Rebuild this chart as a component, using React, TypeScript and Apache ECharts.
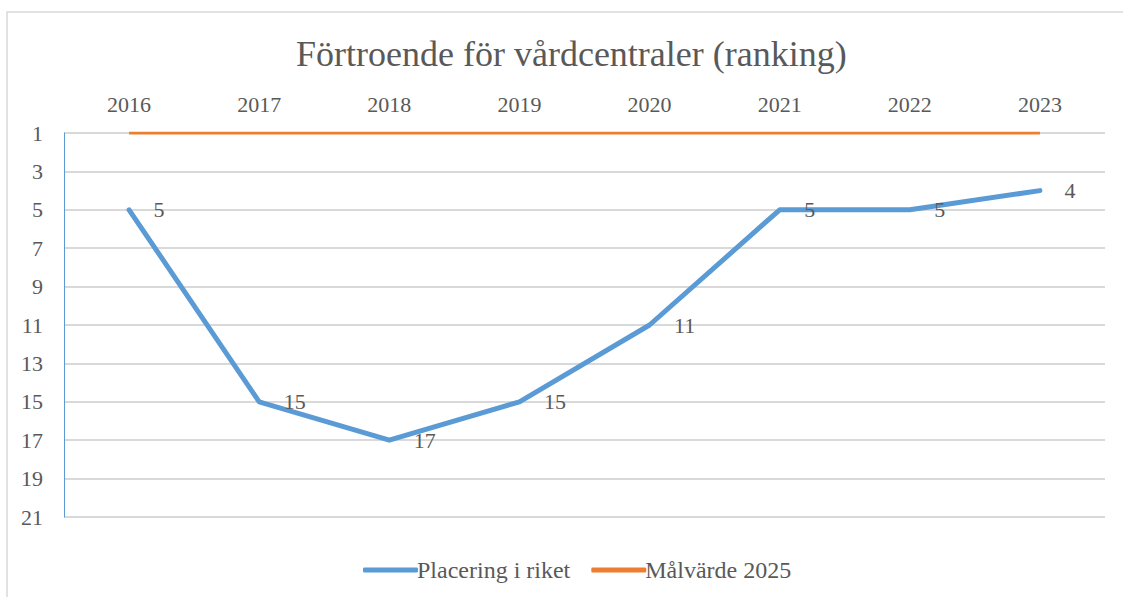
import React, { useEffect, useRef } from "react";
import * as echarts from "echarts";

const years = ["2016", "2017", "2018", "2019", "2020", "2021", "2022", "2023"];
const placering = [5, 15, 17, 15, 11, 5, 5, 4];
const malvarde = [1, 1, 1, 1, 1, 1, 1, 1];

const FONT = "Liberation Serif";
const TXT = "#595959";

export default function App() {
  const ref = useRef<HTMLDivElement>(null);
  useEffect(() => {
    document.body.style.margin = "0";
    const chart = echarts.init(ref.current!, null, { renderer: "svg" });
    chart.setOption({
      animation: false,
      textStyle: { fontFamily: FONT },
      title: {
        text: "Förtroende för vårdcentraler (ranking)",
        left: 291,
        top: 31,
        textStyle: { fontFamily: FONT, fontSize: 36, fontWeight: "normal", color: TXT },
      },
      graphic: [
        {
          type: "rect",
          shape: { x: 7, y: 12, width: 1130, height: 600 },
          style: { fill: "none", stroke: "#d9d9d9", lineWidth: 1.5 },
          silent: true,
        },
      ],
      legend: {
        top: 553,
        left: 358,
        itemWidth: 55,
        itemHeight: 5,
        itemGap: 21,
        icon: "roundRect",
        textStyle: { fontFamily: FONT, fontSize: 24, color: TXT, padding: [0, 0, 0, -6] },
        data: ["Placering i riket", "Målvärde 2025"],
      },
      grid: { left: 64, right: 18, top: 133, bottom: 80 },
      xAxis: {
        type: "category",
        position: "top",
        data: years,
        boundaryGap: true,
        axisLine: { show: false },
        axisTick: { show: false },
        axisLabel: { fontFamily: FONT, fontSize: 22, color: TXT, margin: 18 },
      },
      yAxis: {
        type: "value",
        inverse: true,
        min: 1,
        max: 21,
        interval: 2,
        axisLine: { show: true, lineStyle: { color: "#5b9bd5", width: 1 } },
        axisTick: { show: false },
        axisLabel: { fontFamily: FONT, fontSize: 22, color: TXT, margin: 21 },
        splitLine: { lineStyle: { color: "#d9d9d9", width: 2 } },
      },
      series: [
        {
          name: "Målvärde 2025",
          type: "line",
          data: malvarde,
          showSymbol: false,
          symbol: "none",
          lineStyle: { color: "#ed7d31", width: 3 },
          itemStyle: { color: "#ed7d31" },
          z: 3,
        },
        {
          name: "Placering i riket",
          type: "line",
          data: placering,
          symbol: "circle",
          symbolSize: 1,
          showSymbol: true,
          lineStyle: { color: "#5b9bd5", width: 5, cap: "round", join: "round" },
          itemStyle: { color: "#5b9bd5" },
          label: {
            show: true,
            position: "right",
            distance: 24,
            fontFamily: FONT,
            fontSize: 22,
            color: TXT,
          },
          z: 4,
        },
      ],
    });
    return () => chart.dispose();
  }, []);
  return <div ref={ref} style={{ width: 1123, height: 597 }} />;
}
